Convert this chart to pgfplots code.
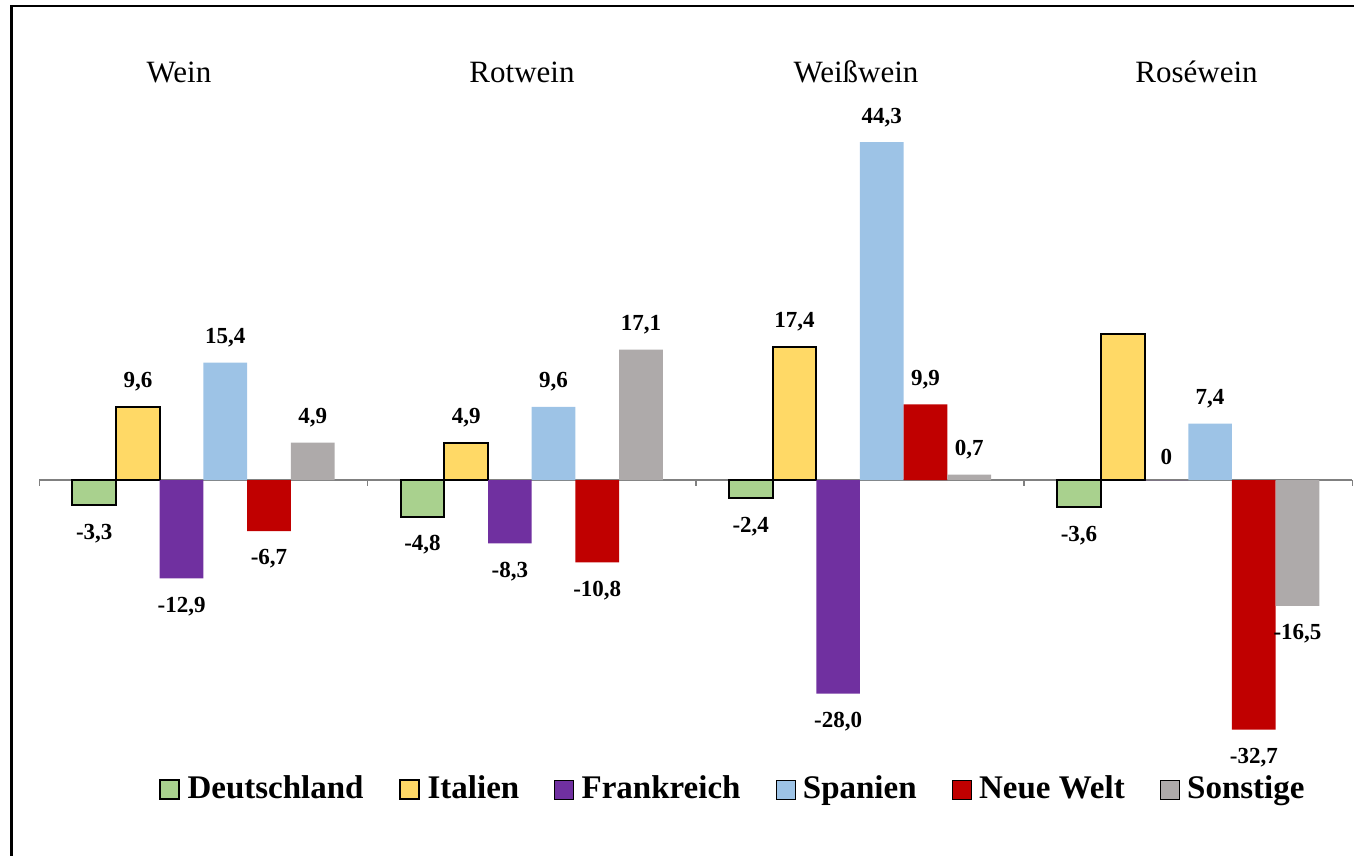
\documentclass[border=0pt]{standalone}
\usepackage{fontspec}
\setmainfont{Liberation Serif}
\usepackage{pgfplots}
\pgfplotsset{compat=1.18}

\definecolor{cDE}{RGB}{169,209,142}
\definecolor{cIT}{RGB}{255,217,102}
\definecolor{cFR}{RGB}{112,48,160}
\definecolor{cES}{RGB}{157,195,230}
\definecolor{cNW}{RGB}{192,0,0}
\definecolor{cSO}{RGB}{174,170,170}
\definecolor{zeroline}{RGB}{128,128,128}

% x: 0 = Wein, 1 = Rotwein, 2 = Weißwein, 3 = Roséwein
\pgfplotstableread{
x y lbl
0 -3.3 -3,3
1 -4.8 -4,8
2 -2.4 -2,4
3 -3.6 -3,6
}\tblDE
\pgfplotstableread{
x y lbl
0 9.6 9,6
1 4.9 4,9
2 17.4 17,4
3 19.1 {}
}\tblIT
\pgfplotstableread{
x y lbl
0 -12.9 -12,9
1 -8.3 -8,3
2 -28.0 -28,0
3 0 0
}\tblFR
\pgfplotstableread{
x y lbl
0 15.4 15,4
1 9.6 9,6
2 44.3 44,3
3 7.4 7,4
}\tblES
\pgfplotstableread{
x y lbl
0 -6.7 -6,7
1 -10.8 -10,8
2 9.9 9,9
3 -32.7 -32,7
}\tblNW
\pgfplotstableread{
x y lbl
0 4.9 4,9
1 17.1 17,1
2 0.7 0,7
3 -16.5 -16,5
}\tblSO

\begin{document}
\begin{tikzpicture}
% page area and frame
\path[use as bounding box] (0,0) rectangle (677pt,-428pt);
\draw[line width=1.25pt] (5.65pt,-430pt) -- (5.65pt,-3pt) -- (680pt,-3pt);

% group titles
\begin{scope}[every node/.style={anchor=base, font=\fontsize{15.5}{18}\selectfont}]
\node at (89.5pt,-41.5pt) {Wein};
\node at (261pt,-41.5pt) {Rotwein};
\node at (428pt,-41.5pt) {Weißwein};
\node at (598.25pt,-41.5pt) {Roséwein};
\end{scope}

\begin{axis}[
  at={(19.65pt,-392.6pt)}, anchor=south west,
  scale only axis,
  width=656.55pt, height=343.35pt,
  xmin=-0.5, xmax=3.5, ymin=-40, ymax=50,
  hide axis, clip=false,
  ybar=0pt, bar width=0.1331,
  point meta=explicit symbolic,
  visualization depends on={rawy \as \rawy},
  nodes near coords,
  every node near coord/.append style={
    font=\bfseries\fontsize{11.5}{13}\selectfont,
    inner xsep=0pt, inner ysep=7.5pt,
    anchor={\ifdim\rawy pt<0pt north\else south\fi},
    yshift={\ifdim\rawy pt<0pt -1.5pt\else 0pt\fi}},
  legend columns=6,
  legend image code/.code={%
    \draw[#1] (0pt,-5.25pt) rectangle (9.5pt,4.25pt);
    \path (11.5pt,0pt);},
  legend style={
    at={(0.5287,-0.0055)}, anchor=center,
    draw=none, fill=none,
    font=\bfseries\fontsize{16.5}{19}\selectfont,
    /tikz/every even column/.append style={column sep=15.5pt}},
]
% zero line with group separators
\draw[zeroline, line width=0.7pt] (axis cs:-0.5,0) -- (axis cs:3.5,0);
\draw[zeroline, line width=0.7pt] (axis cs:-0.5,0) -- ++(0pt,-3pt);
\draw[zeroline, line width=0.7pt] (axis cs:0.5,0) -- ++(0pt,-3pt);
\draw[zeroline, line width=0.7pt] (axis cs:1.5,0) -- ++(0pt,-3pt);
\draw[zeroline, line width=0.7pt] (axis cs:2.5,0) -- ++(0pt,-3pt);
\draw[zeroline, line width=0.7pt] (axis cs:3.5,0) -- ++(0pt,-3pt);

\addplot[fill=cDE, draw=black, line width=1pt] table[x=x, y=y, meta=lbl] {\tblDE};
\addlegendentry{Deutschland}
\addplot[fill=cIT, draw=black, line width=1pt] table[x=x, y=y, meta=lbl] {\tblIT};
\addlegendentry{Italien}
\addplot[fill=cFR, draw=none] table[x=x, y=y, meta=lbl] {\tblFR};
\addlegendentry{Frankreich}
\addplot[fill=cES, draw=none] table[x=x, y=y, meta=lbl] {\tblES};
\addlegendentry{Spanien}
\addplot[fill=cNW, draw=none] table[x=x, y=y, meta=lbl] {\tblNW};
\addlegendentry{Neue Welt}
\addplot[fill=cSO, draw=none] table[x=x, y=y, meta=lbl] {\tblSO};
\addlegendentry{Sonstige}
\end{axis}
\end{tikzpicture}
\end{document}
